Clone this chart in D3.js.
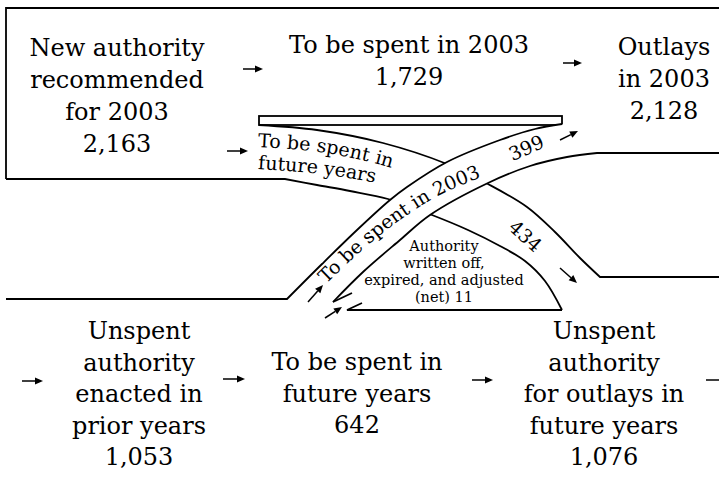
<!DOCTYPE html>
<html>
<head>
<meta charset="utf-8">
<script src="https://cdn.jsdelivr.net/npm/d3@7"></script>
<style>
  body { margin: 0; background: #fff; }
  svg { display: block; }
  text { font-family: "DejaVu Serif", serif; fill: #000; }
</style>
</head>
<body>
<script>
// Budget authority and outlays, 2003 (billions of dollars)
const nodeNames = [
  ["New authority", "recommended", "for 2003"],
  ["To be spent in 2003"],
  ["Outlays", "in 2003"],
  ["Unspent", "authority", "enacted in", "prior years"],
  ["To be spent in", "future years"],
  ["Unspent", "authority", "for outlays in", "future years"]
];
const nodeValues = [2163, 1729, 2128, 1053, 642, 1076];

const flowNames = [
  ["To be spent in 2003"],
  ["To be spent in", "future years"],
  ["Authority", "written off,", "expired, and adjusted", "(net)"]
];
const flowValues = [399, 434, 11];

// layout (design grid, 719 x 481)
const width = 719, height = 481;
const x = d3.scaleLinear().domain([0, 719]).range([0, width]);
const y = d3.scaleLinear().domain([0, 481]).range([0, height]);
const fmt = d3.format(",");

const nodeLayout = [
  {cx: 117, y0: 56, lh: 32},
  {cx: 409, y0: 53, lh: 32},
  {cx: 664, y0: 55, lh: 32},
  {cx: 139, y0: 339, lh: 31.5},
  {cx: 357, y0: 370, lh: 31.5},
  {cx: 604, y0: 339, lh: 31.5}
];

// band edges
const t1 = [[259,125],[317,130],[383,143],[447,164],[488,184],[527,207],[555,232],[580,258],[600,277]];
const t2 = [[285,179],[317,185],[350,191],[388,199],[432,215],[468,230],[500,246],[525,261],[545,281],[562,310]];
const b1 = [[287,299],[322,264],[357,230],[390,200],[407,187],[447,162],[500,140],[535,129],[562,124]];
const b2 = [[333,302],[363,272],[400,240],[430,215],[488,183],[530,166],[567,157],[597,153]];
const band1Text = [[326,284],[360,252],[400,220],[440,195],[487,175],[530,160]];
const band2Text = [[[258,147],[320,152],[385,166],[425,180]], [[258,169],[320,174],[380,184],[425,198]]];

const arrows = [
  [[243,69],[263,69]], [[227,151],[248,151]], [[563,63],[582,63]],
  [[560,140],[578,131]], [[560,268],[577,283]],
  [[22,381],[43,381]], [[223,379],[245,379]], [[472,380],[493,380]], [[706,380],[727,380]],
  [[308,302],[323,285]], [[325,318],[342,307]]
];

const svg = d3.select("body").append("svg")
    .attr("width", width)
    .attr("height", height);

const curve = d3.line().x(d => x(d[0])).y(d => y(d[1])).curve(d3.curveCatmullRom.alpha(0.5));
const straight = d3.line().x(d => x(d[0])).y(d => y(d[1]));

function edge(before, pts, after) {
    let s = curve(pts);
    if (before) s = "M" + x(before[0]) + "," + y(before[1]) + "L" + s.slice(1);
    if (after) s += "L" + x(after[0]) + "," + y(after[1]);
    return s;
}

const g = svg.append("g")
    .attr("fill", "none")
    .attr("stroke", "#000")
    .attr("stroke-width", 1.8)
    .attr("stroke-linejoin", "miter");

// outer box top + left
g.append("path").attr("d", straight([[6,179],[6,8],[719,8]]));
// future-years band
g.append("path").attr("d", edge(null, t1, [719,277]));
g.append("path").attr("d", edge([6,179], t2, null));
g.append("path").attr("d", straight([[562,310],[347,310],[362,303]]));
g.append("rect")
    .attr("x", x(259)).attr("y", y(116))
    .attr("width", x(562) - x(259)).attr("height", y(125) - y(116));

// 2003 band (drawn on top)
g.append("path")
    .attr("d", curve(b1) + "L" + curve(b2.slice().reverse()).slice(1) + "Z")
    .attr("fill", "#fff").attr("stroke", "none");
g.append("path").attr("d", edge([6,299], b1, null));
g.append("path").attr("d", edge(null, b2, [719,153]));
g.append("path").attr("d", straight([[333,302],[352,293]]));

// arrows
arrows.forEach(([a, b]) => {
    const dx = x(b[0]) - x(a[0]), dy = y(b[1]) - y(a[1]);
    const len = Math.hypot(dx, dy), ux = dx / len, uy = dy / len;
    const hx = x(b[0]), hy = y(b[1]), hl = 8, hw = 3.5;
    g.append("line")
        .attr("x1", x(a[0])).attr("y1", y(a[1]))
        .attr("x2", hx - ux * hl).attr("y2", hy - uy * hl)
        .attr("stroke-width", 1.5);
    g.append("path")
        .attr("d", `M${hx},${hy}L${hx - ux*hl - uy*hw},${hy - uy*hl + ux*hw}L${hx - ux*hl + uy*hw},${hy - uy*hl - ux*hw}Z`)
        .attr("fill", "#000").attr("stroke", "none");
});

// node labels
nodeNames.forEach((names, i) => {
    const L = nodeLayout[i];
    const lines = names.concat(fmt(nodeValues[i]));
    const t = svg.append("text")
        .attr("text-anchor", "middle")
        .style("font-size", "24px");
    lines.forEach((s, k) => {
        t.append("tspan").attr("x", x(L.cx)).attr("y", y(L.y0 + k * L.lh)).text(s);
    });
});

// flow labels
const defs = svg.append("defs");
defs.append("path").attr("id", "p-band1").attr("d", curve(band1Text));
band2Text.forEach((p, k) => defs.append("path").attr("id", "p-band2-" + k).attr("d", curve(p)));

svg.append("text").style("font-size", "19px")
  .append("textPath").attr("href", "#p-band1").text(flowNames[0][0]);

flowNames[1].forEach((s, k) => {
    svg.append("text").style("font-size", "19px")
      .append("textPath").attr("href", "#p-band2-" + k).text(s);
});

svg.append("text")
    .attr("transform", `translate(${x(529)},${y(154)}) rotate(-24)`)
    .attr("text-anchor", "middle")
    .style("font-size", "19px")
    .text(fmt(flowValues[0]));

svg.append("text")
    .attr("transform", `translate(${x(521)},${y(241)}) rotate(42)`)
    .attr("text-anchor", "middle")
    .style("font-size", "19px")
    .text(fmt(flowValues[1]));

const auth = svg.append("text").attr("text-anchor", "middle").style("font-size", "14.5px");
flowNames[2].forEach((s, k) => {
    const last = k === flowNames[2].length - 1;
    auth.append("tspan")
        .attr("x", x(444)).attr("y", y(251 + k * 17))
        .text(last ? s + " " + fmt(flowValues[2]) : s);
});
</script>
</body>
</html>
